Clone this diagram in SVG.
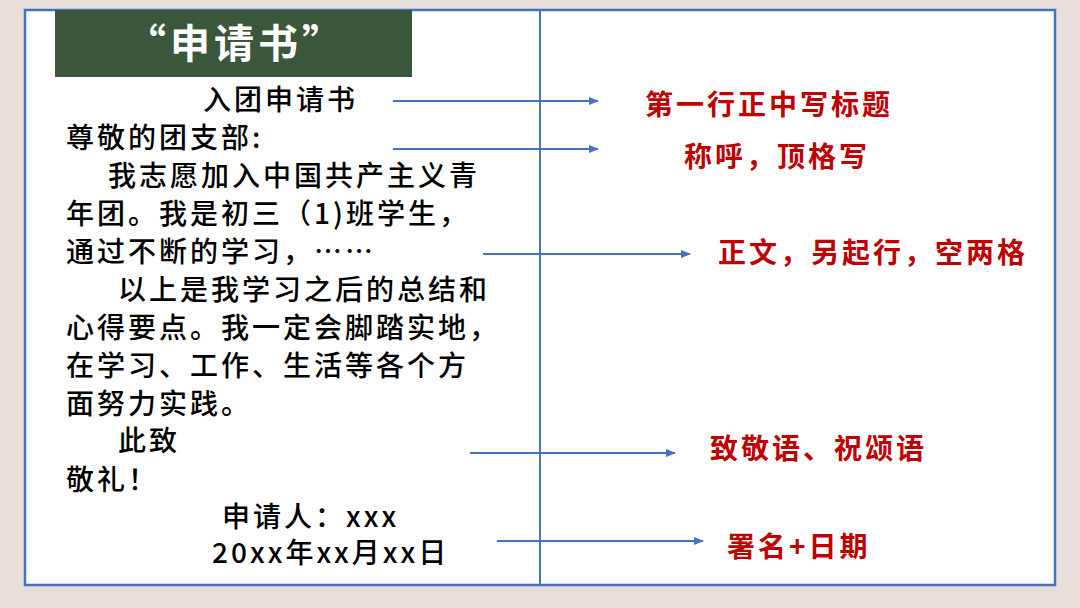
<svg xmlns="http://www.w3.org/2000/svg" width="1080" height="608" viewBox="0 0 1080 608">
<defs>
<style>
.t{font-family:"Noto Sans CJK SC","Liberation Sans",sans-serif;font-size:28px;font-weight:500;letter-spacing:3px;fill:#000}
.r{font-family:"Noto Sans CJK SC","Liberation Sans",sans-serif;font-size:28px;font-weight:bold;letter-spacing:3px;fill:#c00000}
.a{stroke:#4472c4;stroke-width:2;fill:none;marker-end:url(#ah)}
</style>
<marker id="ah" markerWidth="10" markerHeight="10" refX="9" refY="5" orient="auto" markerUnits="userSpaceOnUse"><path d="M0,1 L10,5 L0,9 Z" fill="#4472c4"/></marker>
</defs>
<rect width="1080" height="608" fill="#e8dfda"/>
<rect x="25" y="10" width="1030" height="575" fill="#fff" stroke="#4472c4" stroke-width="2.5"/>
<line x1="540" y1="10" x2="540" y2="585" stroke="#4472c4" stroke-width="2"/>
<g id="title"><rect x="55" y="10" width="357" height="67" fill="#3b573b"/>
<text x="236" y="58" text-anchor="middle" font-family="'Noto Sans CJK SC',sans-serif" font-size="40" font-weight="bold" letter-spacing="4" fill="#fff">“申请书”</text></g>
<g id="letter">
<text class="t" x="203" y="110">入团申请书</text>
<text class="t" x="66" y="148">尊敬的团支部:</text>
<text class="t" x="108" y="186">我志愿加入中国共产主义青</text>
<text class="t" x="66" y="224">年团。我是初三（1)班学生，</text>
<text class="t" x="66" y="262">通过不断的学习，……</text>
<text class="t" x="118" y="300">以上是我学习之后的总结和</text>
<text class="t" x="66" y="338">心得要点。我一定会脚踏实地，</text>
<text class="t" x="66" y="376">在学习、工作、生活等各个方</text>
<text class="t" x="66" y="414">面努力实践。</text>
<text class="t" x="118" y="451">此致</text>
<text class="t" x="66" y="490">敬礼！</text>
<text class="t" x="222" y="527">申请人：xxx</text>
<text class="t" x="212" y="563">20xx年xx月xx日</text>
</g>
<g id="connectors">
<line class="a" x1="393" y1="101" x2="598" y2="101"/>
<line class="a" x1="393" y1="149" x2="598" y2="149"/>
<line class="a" x1="483" y1="254" x2="690" y2="254"/>
<line class="a" x1="470" y1="453" x2="675" y2="453"/>
<line class="a" x1="497" y1="541" x2="703" y2="541"/>
</g>
<g id="labels">
<text class="r" x="645" y="115">第一行正中写标题</text>
<text class="r" x="684" y="167">称呼，顶格写</text>
<text class="r" x="718" y="263">正文，另起行，空两格</text>
<text class="r" x="710" y="459">致敬语、祝颂语</text>
<text class="r" x="727" y="557">署名+日期</text>
</g>
</svg>
